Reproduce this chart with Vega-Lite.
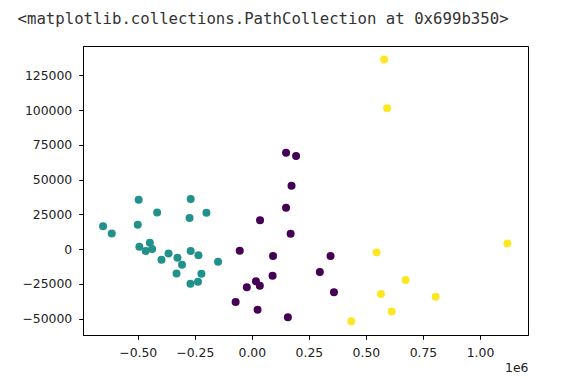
{
  "$schema": "https://vega.github.io/schema/vega-lite/v6.json",
  "width": 445,
  "height": 289,
  "autosize": "none",
  "padding": {"left": 83, "top": 46, "right": 43, "bottom": 44},
  "background": "white",
  "title": {
    "text": "<matplotlib.collections.PathCollection at 0x699b350>",
    "anchor": "start",
    "frame": "group",
    "dx": -65.5,
    "dy": 16,
    "offset": 22,
    "baseline": "alphabetic",
    "font": "DejaVu Sans Mono",
    "fontSize": 15.7,
    "fontWeight": "normal",
    "color": "#333333"
  },
  "config": {
    "view": {"stroke": "#000000", "strokeWidth": 1},
    "axis": {
      "grid": false,
      "domainColor": "#000000",
      "domainWidth": 1,
      "tickColor": "#000000",
      "tickWidth": 1,
      "tickSize": 4.3,
      "labelFont": "DejaVu Sans",
      "labelFontSize": 12.4,
      "labelColor": "#222222",
      "labelPadding": 7,
      "titleFont": "DejaVu Sans",
      "titleFontSize": 12.4,
      "titleFontWeight": "normal",
      "titleColor": "#222222"
    }
  },
  "data": {
    "values": [
      {"x": 150000, "y": 69200, "cluster": 0},
      {"x": 194000, "y": 67000, "cluster": 0},
      {"x": 174000, "y": 45500, "cluster": 0},
      {"x": 150000, "y": 29700, "cluster": 0},
      {"x": 36000, "y": 20800, "cluster": 0},
      {"x": 170000, "y": 11000, "cluster": 0},
      {"x": -53000, "y": -1200, "cluster": 0},
      {"x": 93000, "y": -5000, "cluster": 0},
      {"x": 345000, "y": -5000, "cluster": 0},
      {"x": 298000, "y": -16500, "cluster": 0},
      {"x": 91000, "y": -19200, "cluster": 0},
      {"x": 18000, "y": -23200, "cluster": 0},
      {"x": 35000, "y": -26400, "cluster": 0},
      {"x": -22000, "y": -27500, "cluster": 0},
      {"x": 360000, "y": -31100, "cluster": 0},
      {"x": -71000, "y": -38100, "cluster": 0},
      {"x": 25000, "y": -43600, "cluster": 0},
      {"x": 158000, "y": -49100, "cluster": 0},
      {"x": -652000, "y": 16500, "cluster": 1},
      {"x": -614000, "y": 11300, "cluster": 1},
      {"x": -496000, "y": 35400, "cluster": 1},
      {"x": -415000, "y": 26400, "cluster": 1},
      {"x": -500000, "y": 17500, "cluster": 1},
      {"x": -268000, "y": 36100, "cluster": 1},
      {"x": -199000, "y": 26100, "cluster": 1},
      {"x": -273000, "y": 22300, "cluster": 1},
      {"x": -493000, "y": 1700, "cluster": 1},
      {"x": -447000, "y": 4500, "cluster": 1},
      {"x": -465000, "y": -1400, "cluster": 1},
      {"x": -437000, "y": 0, "cluster": 1},
      {"x": -396000, "y": -7700, "cluster": 1},
      {"x": -365000, "y": -3100, "cluster": 1},
      {"x": -326000, "y": -6300, "cluster": 1},
      {"x": -306000, "y": -11300, "cluster": 1},
      {"x": -330000, "y": -17500, "cluster": 1},
      {"x": -268000, "y": -1400, "cluster": 1},
      {"x": -234000, "y": -4500, "cluster": 1},
      {"x": -148000, "y": -9100, "cluster": 1},
      {"x": -221000, "y": -17700, "cluster": 1},
      {"x": -269000, "y": -24900, "cluster": 1},
      {"x": -236000, "y": -23500, "cluster": 1},
      {"x": 580000, "y": 136300, "cluster": 2},
      {"x": 593000, "y": 101300, "cluster": 2},
      {"x": 1120000, "y": 4100, "cluster": 2},
      {"x": 547000, "y": -2400, "cluster": 2},
      {"x": 674000, "y": -22300, "cluster": 2},
      {"x": 566000, "y": -32300, "cluster": 2},
      {"x": 806000, "y": -34300, "cluster": 2},
      {"x": 613000, "y": -44800, "cluster": 2},
      {"x": 436000, "y": -51900, "cluster": 2}
    ]
  },
  "mark": {"type": "circle", "size": 64, "opacity": 1},
  "encoding": {
    "x": {
      "field": "x",
      "type": "quantitative",
      "scale": {"domain": [-740000, 1210500], "nice": false, "zero": false},
      "axis": {
        "values": [-500000, -250000, 0, 250000, 500000, 750000, 1000000],
        "labelExpr": "format(datum.value / 1000000, '.2f')",
        "title": "1e6",
        "titleAnchor": "end",
        "titleAlign": "right",
        "titlePadding": 3
      }
    },
    "y": {
      "field": "y",
      "type": "quantitative",
      "scale": {"domain": [-61780, 146050], "nice": false, "zero": false},
      "axis": {
        "values": [-50000, -25000, 0, 25000, 50000, 75000, 100000, 125000],
        "format": "d",
        "title": null
      }
    },
    "color": {
      "field": "cluster",
      "type": "nominal",
      "scale": {"domain": [0, 1, 2], "range": ["#440154", "#21918c", "#fde725"]},
      "legend": null
    }
  }
}
